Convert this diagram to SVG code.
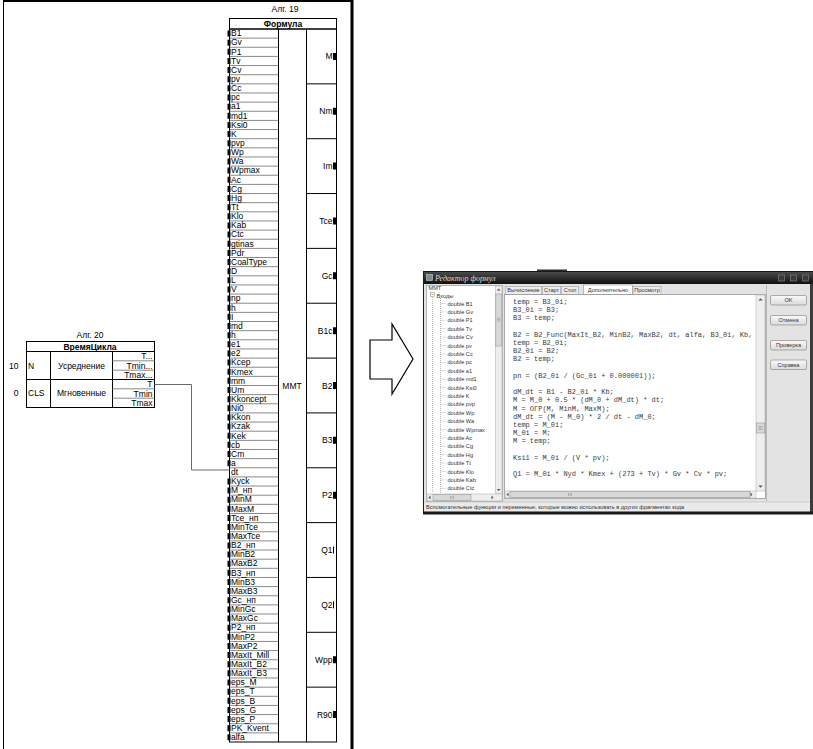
<svg xmlns="http://www.w3.org/2000/svg" width="813" height="749" viewBox="0 0 813 749">
<defs>
<style>
.t{font-family:"Liberation Sans",Arial,sans-serif;font-size:8.5px;fill:#000}
.b{font-weight:bold}
.e{text-anchor:end}
.c{text-anchor:middle}
.p{fill:#000}
.ln{fill:none;stroke:#000;stroke-width:1}
.rl{fill:none;stroke:#8a8a8a;stroke-width:1}
.m{font-family:"Liberation Mono","Courier New",monospace;font-size:7px;fill:#3c3c3c}
.s{font-family:"Liberation Sans",Arial,sans-serif;font-size:5.6px;fill:#333}
.dot{fill:none;stroke:#a8a8a8;stroke-width:0.8;stroke-dasharray:1 1}
.sb{fill:#eeeeee;stroke:#b8b8b8;stroke-width:0.6}
.th{fill:#d8d8d8;stroke:#9a9a9a;stroke-width:0.6}
.btn{fill:url(#bg);stroke:#8c8c8c;stroke-width:0.7}
.arr{fill:#555}
</style>
<linearGradient id="tb" x1="0" y1="0" x2="0" y2="1">
<stop offset="0" stop-color="#4a4a4a"/><stop offset="1" stop-color="#101010"/>
</linearGradient>
<linearGradient id="bg" x1="0" y1="0" x2="0" y2="1">
<stop offset="0" stop-color="#fafafa"/><stop offset="1" stop-color="#dadada"/>
</linearGradient>
</defs>
<rect width="813" height="749" fill="#fff"/>

<g id="frame">
<path class="ln" d="M3.5 0V749"/>
<path d="M3 1H353" stroke="#000" stroke-width="2" fill="none"/>
<path d="M352 0V749" stroke="#000" stroke-width="3" fill="none"/>
</g>

<g id="alg19">
<text class="t c" x="285" y="12">Алг. 19</text>
<rect class="ln" x="229.5" y="18.5" width="107" height="10.5" fill="#fff"/>
<text class="t b c" x="283" y="27">Формула</text>
<rect class="ln" x="229.5" y="29" width="107" height="713"/>
<path class="ln" d="M278.5 29V742M306.5 29V742"/>
<path class="rl" d="M230 38.14H278M230 47.28H278M230 56.42H278M230 65.56H278M230 74.71H278M230 83.85H278M230 92.99H278M230 102.13H278M230 111.27H278M230 120.41H278M230 129.55H278M230 138.69H278M230 147.83H278M230 156.97H278M230 166.12H278M230 175.26H278M230 184.4H278M230 193.54H278M230 202.68H278M230 211.82H278M230 220.96H278M230 230.1H278M230 239.24H278M230 248.38H278M230 257.53H278M230 266.67H278M230 275.81H278M230 284.95H278M230 294.09H278M230 303.23H278M230 312.37H278M230 321.51H278M230 330.65H278M230 339.79H278M230 348.94H278M230 358.08H278M230 367.22H278M230 376.36H278M230 385.5H278M230 394.64H278M230 403.78H278M230 412.92H278M230 422.06H278M230 431.2H278M230 440.35H278M230 449.49H278M230 458.63H278M230 467.77H278M230 476.91H278M230 486.05H278M230 495.19H278M230 504.33H278M230 513.47H278M230 522.61H278M230 531.76H278M230 540.9H278M230 550.04H278M230 559.18H278M230 568.32H278M230 577.46H278M230 586.6H278M230 595.74H278M230 604.88H278M230 614.02H278M230 623.17H278M230 632.31H278M230 641.45H278M230 650.59H278M230 659.73H278M230 668.87H278M230 678.01H278M230 687.15H278M230 696.29H278M230 705.43H278M230 714.58H278M230 723.72H278M230 732.86H278"/>
<path class="ln" d="M306.5 83.85H336.5M306.5 138.69H336.5M306.5 193.54H336.5M306.5 248.38H336.5M306.5 303.23H336.5M306.5 358.08H336.5M306.5 412.92H336.5M306.5 467.77H336.5M306.5 522.62H336.5M306.5 577.46H336.5M306.5 632.31H336.5M306.5 687.15H336.5"/>
<text class="t c" x="292" y="388.5">MMT</text>
<g id="alg19-inputs">
<text class="t" x="231" y="36.3">B1</text>
<text class="t" x="231" y="45.44">Gv</text>
<text class="t" x="231" y="54.58">P1</text>
<text class="t" x="231" y="63.72">Tv</text>
<text class="t" x="231" y="72.86">Cv</text>
<text class="t" x="231" y="82.01">pv</text>
<text class="t" x="231" y="91.15">Cc</text>
<text class="t" x="231" y="100.29">pc</text>
<text class="t" x="231" y="109.43">a1</text>
<text class="t" x="231" y="118.57">md1</text>
<text class="t" x="231" y="127.71">Ksi0</text>
<text class="t" x="231" y="136.85">K</text>
<text class="t" x="231" y="145.99">pvp</text>
<text class="t" x="231" y="155.13">Wp</text>
<text class="t" x="231" y="164.27">Wa</text>
<text class="t" x="231" y="173.42">Wpmax</text>
<text class="t" x="231" y="182.56">Ac</text>
<text class="t" x="231" y="191.7">Cg</text>
<text class="t" x="231" y="200.84">Hg</text>
<text class="t" x="231" y="209.98">Tt</text>
<text class="t" x="231" y="219.12">Klo</text>
<text class="t" x="231" y="228.26">Kab</text>
<text class="t" x="231" y="237.4">Ctc</text>
<text class="t" x="231" y="246.54">gtinas</text>
<text class="t" x="231" y="255.68">Pdr</text>
<text class="t" x="231" y="264.83">CoalType</text>
<text class="t" x="231" y="273.97">D</text>
<text class="t" x="231" y="283.11">L</text>
<text class="t" x="231" y="292.25">V</text>
<text class="t" x="231" y="301.39">np</text>
<text class="t" x="231" y="310.53">h</text>
<text class="t" x="231" y="319.67">I</text>
<text class="t" x="231" y="328.81">md</text>
<text class="t" x="231" y="337.95">h</text>
<text class="t" x="231" y="347.09">e1</text>
<text class="t" x="231" y="356.24">e2</text>
<text class="t" x="231" y="365.38">Kcep</text>
<text class="t" x="231" y="374.52">Kmex</text>
<text class="t" x="231" y="383.66">mm</text>
<text class="t" x="231" y="392.8">Um</text>
<text class="t" x="231" y="401.94">Kkoncept</text>
<text class="t" x="231" y="411.08">Ni0</text>
<text class="t" x="231" y="420.22">Kkon</text>
<text class="t" x="231" y="429.36">Kzak</text>
<text class="t" x="231" y="438.5">Kek</text>
<text class="t" x="231" y="447.65">cb</text>
<text class="t" x="231" y="456.79">Cm</text>
<text class="t" x="231" y="465.93">a</text>
<text class="t" x="231" y="475.07">dt</text>
<text class="t" x="231" y="484.21">Kyck</text>
<text class="t" x="231" y="493.35">M_нп</text>
<text class="t" x="231" y="502.49">MinM</text>
<text class="t" x="231" y="511.63">MaxM</text>
<text class="t" x="231" y="520.77">Tce_нп</text>
<text class="t" x="231" y="529.91">MinTce</text>
<text class="t" x="231" y="539.06">MaxTce</text>
<text class="t" x="231" y="548.2">B2_нп</text>
<text class="t" x="231" y="557.34">MinB2</text>
<text class="t" x="231" y="566.48">MaxB2</text>
<text class="t" x="231" y="575.62">B3_нп</text>
<text class="t" x="231" y="584.76">MinB3</text>
<text class="t" x="231" y="593.9">MaxB3</text>
<text class="t" x="231" y="603.04">Gc_нп</text>
<text class="t" x="231" y="612.18">MinGc</text>
<text class="t" x="231" y="621.32">MaxGc</text>
<text class="t" x="231" y="630.47">P2_нп</text>
<text class="t" x="231" y="639.61">MinP2</text>
<text class="t" x="231" y="648.75">MaxP2</text>
<text class="t" x="231" y="657.89">MaxIt_Mill</text>
<text class="t" x="231" y="667.03">MaxIt_B2</text>
<text class="t" x="231" y="676.17">MaxIt_B3</text>
<text class="t" x="231" y="685.31">eps_M</text>
<text class="t" x="231" y="694.45">eps_T</text>
<text class="t" x="231" y="703.59">eps_B</text>
<text class="t" x="231" y="712.73">eps_G</text>
<text class="t" x="231" y="721.88">eps_P</text>
<text class="t" x="231" y="731.02">PK_Kvent</text>
<text class="t" x="231" y="740.16">alfa</text>
</g>
<path class="p" d="M227.5 30.5h3v6h-3zM227.5 39.64h3v6h-3zM227.5 48.78h3v6h-3zM227.5 57.92h3v6h-3zM227.5 67.06h3v6h-3zM227.5 76.21h3v6h-3zM227.5 85.35h3v6h-3zM227.5 94.49h3v6h-3zM227.5 103.63h3v6h-3zM227.5 112.77h3v6h-3zM227.5 121.91h3v6h-3zM227.5 131.05h3v6h-3zM227.5 140.19h3v6h-3zM227.5 149.33h3v6h-3zM227.5 158.47h3v6h-3zM227.5 167.62h3v6h-3zM227.5 176.76h3v6h-3zM227.5 185.9h3v6h-3zM227.5 195.04h3v6h-3zM227.5 204.18h3v6h-3zM227.5 213.32h3v6h-3zM227.5 222.46h3v6h-3zM227.5 231.6h3v6h-3zM227.5 240.74h3v6h-3zM227.5 249.88h3v6h-3zM227.5 259.03h3v6h-3zM227.5 268.17h3v6h-3zM227.5 277.31h3v6h-3zM227.5 286.45h3v6h-3zM227.5 295.59h3v6h-3zM227.5 304.73h3v6h-3zM227.5 313.87h3v6h-3zM227.5 323.01h3v6h-3zM227.5 332.15h3v6h-3zM227.5 341.29h3v6h-3zM227.5 350.44h3v6h-3zM227.5 359.58h3v6h-3zM227.5 368.72h3v6h-3zM227.5 377.86h3v6h-3zM227.5 387h3v6h-3zM227.5 396.14h3v6h-3zM227.5 405.28h3v6h-3zM227.5 414.42h3v6h-3zM227.5 423.56h3v6h-3zM227.5 432.7h3v6h-3zM227.5 441.85h3v6h-3zM227.5 450.99h3v6h-3zM227.5 460.13h3v6h-3zM227.5 478.41h3v6h-3zM227.5 487.55h3v6h-3zM227.5 496.69h3v6h-3zM227.5 505.83h3v6h-3zM227.5 514.97h3v6h-3zM227.5 524.11h3v6h-3zM227.5 533.26h3v6h-3zM227.5 542.4h3v6h-3zM227.5 551.54h3v6h-3zM227.5 560.68h3v6h-3zM227.5 569.82h3v6h-3zM227.5 578.96h3v6h-3zM227.5 588.1h3v6h-3zM227.5 597.24h3v6h-3zM227.5 606.38h3v6h-3zM227.5 615.52h3v6h-3zM227.5 624.67h3v6h-3zM227.5 633.81h3v6h-3zM227.5 642.95h3v6h-3zM227.5 652.09h3v6h-3zM227.5 661.23h3v6h-3zM227.5 670.37h3v6h-3zM227.5 679.51h3v6h-3zM227.5 688.65h3v6h-3zM227.5 697.79h3v6h-3zM227.5 706.93h3v6h-3zM227.5 716.08h3v6h-3zM227.5 725.22h3v6h-3zM227.5 734.36h3v6h-3z"/>
<g id="alg19-outputs">
<text class="t e" x="332.5" y="59.42">M</text>
<text class="t e" x="332.5" y="114.27">Nm</text>
<text class="t e" x="332.5" y="169.12">Im</text>
<text class="t e" x="332.5" y="223.96">Tce</text>
<text class="t e" x="332.5" y="278.81">Gc</text>
<text class="t e" x="332.5" y="333.65">B1c</text>
<text class="t e" x="332.5" y="388.5">B2</text>
<text class="t e" x="332.5" y="443.35">B3</text>
<text class="t e" x="332.5" y="498.19">P2</text>
<text class="t e" x="332.5" y="553.04">Q1</text>
<text class="t e" x="332.5" y="607.88">Q2</text>
<text class="t e" x="332.5" y="662.73">Wpp</text>
<text class="t e" x="332.5" y="717.58">R90</text>
</g>
<path class="p" d="M333 52.92h3v7h-3zM333 107.77h3v7h-3zM333 162.62h3v7h-3zM333 217.46h3v7h-3zM333 272.31h3v7h-3zM333 327.15h3v7h-3zM333 382h3v7h-3zM333 436.85h3v7h-3zM333 491.69h3v7h-3zM333 656.23h3v7h-3zM333 711.08h3v7h-3z"/>
<path d="M333.5 546.54v7M333.5 601.38v7" stroke="#000" stroke-width="1"/>
</g>

<g id="alg20">
<text class="t c" x="90" y="338">Алг. 20</text>
<rect class="ln" x="26.5" y="341.5" width="128" height="10" fill="#fff"/>
<text class="t b c" x="90" y="349.5">ВремяЦикла</text>
<rect class="ln" x="26.5" y="351.5" width="128" height="56"/>
<path class="ln" d="M50.5 351.5V407.5M112.5 351.5V407.5M26.5 379.5H154.5"/>
<path class="rl" d="M112.5 360.8H154.5M112.5 370.2H154.5M112.5 388.8H154.5M112.5 398.2H154.5"/>
<text class="t e" x="152.5" y="359">T...</text>
<text class="t e" x="152.5" y="368.5">Tmin...</text>
<text class="t e" x="152.5" y="377.8">Tmax...</text>
<text class="t e" x="152.5" y="387">T</text>
<text class="t e" x="152.5" y="396.5">Tmin</text>
<text class="t e" x="152.5" y="405.8">Tmax</text>
<text class="t c" x="81.5" y="368.5">Усреднение</text>
<text class="t c" x="81.5" y="396">Мгновенные</text>
<text class="t e" x="18.5" y="368.5">10</text>
<text class="t" x="28" y="368.5">N</text>
<text class="t e" x="18.5" y="396">0</text>
<text class="t" x="28" y="396">CLS</text>
</g>

<g id="connectors">
<polyline points="154.5,384.5 191.5,384.5 191.5,470 229.5,470" fill="none" stroke="#6a6a6a" stroke-width="1"/>
</g>

<g id="arrow">
<polygon points="370,340 392,340 392,324 413,359 392,394 392,379 370,379" fill="#fff" stroke="#000" stroke-width="1.2"/>
</g>

<g id="formula-editor">
<rect x="537" y="269.5" width="30" height="4" fill="#2a2a2a"/>
<rect x="423.5" y="271.5" width="390" height="242.5" fill="#e3e3e3" stroke="#1a1a1a"/>
<rect x="424" y="272" width="389" height="12" fill="url(#tb)"/>
<rect x="426.5" y="274.5" width="6" height="6" fill="#7c8c98" stroke="#cfcfcf" stroke-width="0.6"/>
<text x="435" y="281.3" font-family="'Liberation Serif',serif" font-style="italic" font-size="8" fill="#d8d8d8">Редактор формул</text>
<rect x="778.5" y="275" width="6" height="6" fill="#3a3a3a" stroke="#8a8a8a" stroke-width="0.6"/>
<rect x="790.5" y="275" width="6" height="6" fill="#3a3a3a" stroke="#8a8a8a" stroke-width="0.6"/>
<rect x="802.5" y="275" width="6" height="6" fill="#3a3a3a" stroke="#8a8a8a" stroke-width="0.6"/>
<rect x="810" y="284" width="3" height="230" fill="#3c3c3c"/>

<g id="tree">
<rect x="426.5" y="285.5" width="76" height="216" fill="#fff" stroke="#9a9a9a" stroke-width="0.7"/>
<text class="s" x="428.5" y="290">MMT</text>
<rect x="430.5" y="292.5" width="4" height="4" fill="#fff" stroke="#888" stroke-width="0.5"/>
<path d="M431.3 294.5h2.4" stroke="#555" stroke-width="0.5"/>
<text class="s" x="436.5" y="297.5">Входы</text>
<path class="dot" d="M432.5 297V493M440.5 298V493M440.5 303.5H446M440.5 311.9H446M440.5 320.3H446M440.5 328.7H446M440.5 337.1H446M440.5 345.5H446M440.5 353.9H446M440.5 362.3H446M440.5 370.7H446M440.5 379.1H446M440.5 387.5H446M440.5 395.9H446M440.5 404.3H446M440.5 412.7H446M440.5 421.1H446M440.5 429.5H446M440.5 437.9H446M440.5 446.3H446M440.5 454.7H446M440.5 463.1H446M440.5 471.5H446M440.5 479.9H446M440.5 488.3H446"/>
<text class="s" x="447.5" y="305.5">double B1</text>
<text class="s" x="447.5" y="313.9">double Gv</text>
<text class="s" x="447.5" y="322.3">double P1</text>
<text class="s" x="447.5" y="330.7">double Tv</text>
<text class="s" x="447.5" y="339.1">double Cv</text>
<text class="s" x="447.5" y="347.5">double pv</text>
<text class="s" x="447.5" y="355.9">double Cc</text>
<text class="s" x="447.5" y="364.3">double pc</text>
<text class="s" x="447.5" y="372.7">double a1</text>
<text class="s" x="447.5" y="381.1">double md1</text>
<text class="s" x="447.5" y="389.5">double Ksi0</text>
<text class="s" x="447.5" y="397.9">double K</text>
<text class="s" x="447.5" y="406.3">double pvp</text>
<text class="s" x="447.5" y="414.7">double Wp</text>
<text class="s" x="447.5" y="423.1">double Wa</text>
<text class="s" x="447.5" y="431.5">double Wpmax</text>
<text class="s" x="447.5" y="439.9">double Ac</text>
<text class="s" x="447.5" y="448.3">double Cg</text>
<text class="s" x="447.5" y="456.7">double Hg</text>
<text class="s" x="447.5" y="465.1">double Tt</text>
<text class="s" x="447.5" y="473.5">double Klo</text>
<text class="s" x="447.5" y="481.9">double Kab</text>
<text class="s" x="447.5" y="490.3">double Ctc</text>
<rect class="sb" x="495.5" y="286" width="6.5" height="207.5"/>
<rect class="th" x="495.8" y="294" width="6" height="52"/>
<path d="M497 318h3.5M497 319.5h3.5M497 321h3.5" stroke="#888" stroke-width="0.5"/>
<path class="arr" d="M496.8 290.5l1.9-2 1.9 2z"/>
<path class="arr" d="M496.8 489l1.9 2 1.9-2z"/>
<rect class="sb" x="427" y="494" width="75" height="7"/>
<rect class="th" x="433" y="494.3" width="38" height="6.4"/>
<path d="M450.5 496v3M452 496v3M453.5 496v3" stroke="#888" stroke-width="0.5"/>
<path class="arr" d="M430.5 495.6l-2 1.9 2 1.9z"/>
<path class="arr" d="M491.5 495.6l2 1.9-2 1.9z"/>
</g>

<g id="tabs">
<rect x="505.5" y="286.5" width="36" height="8" fill="#ececec" stroke="#a0a0a0" stroke-width="0.6"/>
<text class="s c" x="523.5" y="292.3">Вычисление</text>
<rect x="542.5" y="286.5" width="18" height="8" fill="#ececec" stroke="#a0a0a0" stroke-width="0.6"/>
<text class="s c" x="551.5" y="292.3">Старт</text>
<rect x="561.5" y="286.5" width="17" height="8" fill="#ececec" stroke="#a0a0a0" stroke-width="0.6"/>
<text class="s c" x="570" y="292.3">Стоп</text>
<rect x="583.5" y="285" width="49" height="9.5" fill="#fff" stroke="#909090" stroke-width="0.6"/>
<text class="s c" x="608" y="292">Дополнительно</text>
<rect x="633" y="286.5" width="28" height="8" fill="#ececec" stroke="#a0a0a0" stroke-width="0.6"/>
<text class="s c" x="647" y="292.3">Просмотр</text>
</g>

<g id="code">
<rect x="504.5" y="294.5" width="261" height="204" fill="#fff" stroke="#8a8a8a" stroke-width="0.7"/>
<text class="m" x="513" y="304">temp = B3_0i;</text>
<text class="m" x="513" y="312.2">B3_0i = B3;</text>
<text class="m" x="513" y="320.4">B3 = temp;</text>
<text class="m" x="513" y="336.8">B2 = B2_Func(MaxIt_B2, MinB2, MaxB2, dt, alfa, B3_0i, Kb,</text>
<text class="m" x="513" y="345">temp = B2_0i;</text>
<text class="m" x="513" y="353.2">B2_0i = B2;</text>
<text class="m" x="513" y="361.4">B2 = temp;</text>
<text class="m" x="513" y="377.8">pn = (B2_0i / (Gc_0i + 0.000001));</text>
<text class="m" x="513" y="394.2">dM_dt = B1 - B2_0i * Kb;</text>
<text class="m" x="513" y="402.4">M = M_0 + 0.5 * (dM_0 + dM_dt) * dt;</text>
<text class="m" x="513" y="410.6">M = ОГР(M, MinM, MaxM);</text>
<text class="m" x="513" y="418.8">dM_dt = (M - M_0) * 2 / dt - dM_0;</text>
<text class="m" x="513" y="427">temp = M_0i;</text>
<text class="m" x="513" y="435.2">M_0i = M;</text>
<text class="m" x="513" y="443.4">M = temp;</text>
<text class="m" x="513" y="459.8">Ksi1 = M_0i / (V * pv);</text>
<text class="m" x="513" y="476.2">Q1 = M_0i * Nyd * Kmex + (273 + Tv) * Gv * Cv * pv;</text>
<rect class="sb" x="756" y="295" width="9" height="196"/>
<rect class="th" x="756.3" y="423" width="8.4" height="10"/>
<path d="M758.5 426.5h4M758.5 428h4M758.5 429.5h4" stroke="#888" stroke-width="0.5"/>
<path class="arr" d="M758.3 300.5l2.2-2.3 2.2 2.3z"/>
<path class="arr" d="M758.3 485.5l2.2 2.3 2.2-2.3z"/>
<rect class="sb" x="505" y="491" width="251" height="7"/>
<rect class="th" x="510" y="491.3" width="240" height="6.4" fill="#e4e4e4"/>
<path d="M568.5 493v3M570 493v3M571.5 493v3" stroke="#888" stroke-width="0.5"/>
<path class="arr" d="M508.5 492.6l-2 1.9 2 1.9z"/>
<path class="arr" d="M750.5 492.6l2 1.9-2 1.9z"/>
</g>

<g id="buttons">
<path d="M766.5 285V501" stroke="#b0b0b0" stroke-width="0.8"/>
<rect class="btn" x="770.5" y="295.5" width="36" height="9.5" rx="1.5"/>
<text class="s c" x="788.5" y="302.2">OK</text>
<rect class="btn" x="770.5" y="315.5" width="36" height="9.5" rx="1.5"/>
<text class="s c" x="788.5" y="322.2">Отмена</text>
<rect class="btn" x="770.5" y="340.5" width="36" height="9.5" rx="1.5"/>
<text class="s c" x="788.5" y="347.2">Проверка</text>
<rect class="btn" x="770.5" y="360" width="36" height="9.5" rx="1.5"/>
<text class="s c" x="788.5" y="366.7">Справка</text>
</g>

<g id="status">
<rect x="424" y="502" width="386" height="9.5" fill="#eaeaea"/>
<path d="M424 502H810" stroke="#b8b8b8" stroke-width="0.6"/>
<text class="s" x="426" y="509.3">Вспомогательные функции и переменные, которые можно использовать в других фрагментах кода</text>
<path d="M424 512.8H813" stroke="#1a1a1a" stroke-width="2.5"/>
</g>
</g>
</svg>
